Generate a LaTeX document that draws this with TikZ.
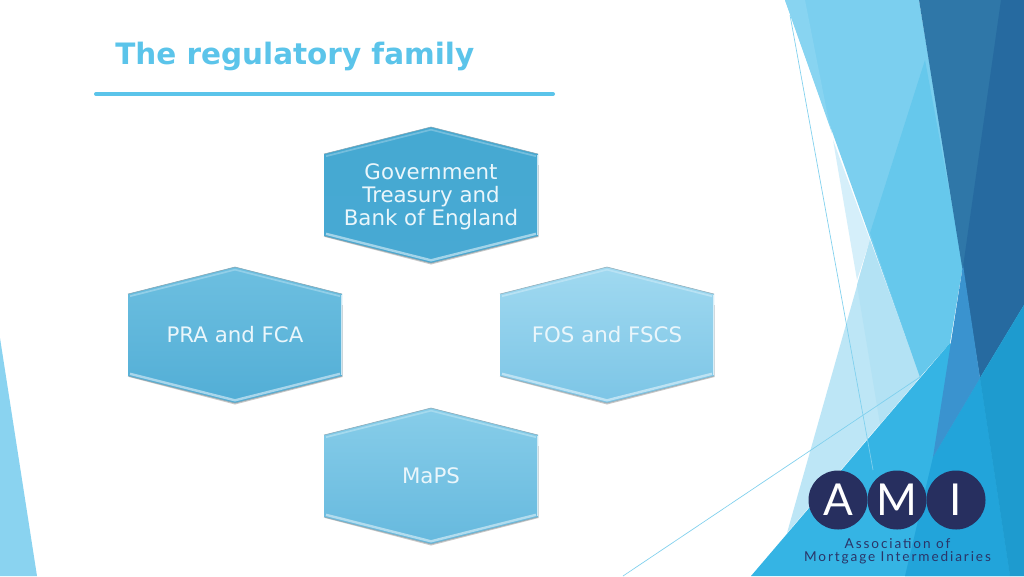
\documentclass[tikz,border=0pt]{standalone}
\usepackage{fontspec}
\setmainfont{DejaVu Sans}
\newfontfamily\logofont{Lato}
\newfontfamily\logotext[LetterSpace=14]{Lato}
\usetikzlibrary{calc}
\definecolor{titleblue}{HTML}{5BC4EA}
\definecolor{amin}{HTML}{272F5F}
\definecolor{amit}{HTML}{2A3568}
\definecolor{hextext}{HTML}{EAF6FB}
\definecolor{govT}{HTML}{45A9D2}\definecolor{govB}{HTML}{48A9D3}
\definecolor{praT}{HTML}{6DBFE0}\definecolor{praB}{HTML}{52AED6}
\definecolor{fosT}{HTML}{A0D9F0}\definecolor{fosB}{HTML}{7CC5E6}
\definecolor{mapT}{HTML}{87CDE9}\definecolor{mapB}{HTML}{66B9DE}
\definecolor{fLeft}{HTML}{8AD3F0}
\definecolor{fDark}{HTML}{2F77A8}
\definecolor{fDarker}{HTML}{266AA0}
\definecolor{fLight}{HTML}{7BCFEF}
\definecolor{fStrip}{HTML}{88D4F1}
\definecolor{fMed}{HTML}{66C8EC}
\definecolor{fPale}{HTML}{BDE6F6}
\definecolor{fPaler}{HTML}{D5EFFA}
\definecolor{fPaleB}{HTML}{B3E2F4}
\definecolor{fMid}{HTML}{3A93CF}
\definecolor{fLow}{HTML}{35B4E4}
\definecolor{fLowB}{HTML}{22A4DA}
\definecolor{fLowC}{HTML}{1E9BCF}
\definecolor{fLine}{HTML}{7FD0EE}
\tikzset{
  x=0.75pt,y=-0.75pt,
  hexlabel/.style={text=hextext,font=\fontsize{16pt}{17.3pt}\selectfont,align=center,inner sep=0pt},
  thinline/.style={draw=fLine,line width=0.5pt},
  logoletter/.style={text=white,font=\logofont\fontsize{33pt}{33pt}\selectfont,inner sep=0pt},
  logotag/.style={text=amit,font=\logotext\fontsize{10.2pt}{10.5pt}\selectfont,inner sep=0pt},
}
\newcommand{\hexa}[3]{%
 \begin{scope}[shift={(#1)}]
  \fill[black,opacity=.22] (-106,-30) -- (107.6,-30) -- (107.6,42) -- (0,69.5) -- (-106,42) -- cycle;
  \shade[top color=#2,bottom color=#3] (-107,-41) -- (0,-68) -- (107,-41) -- (107,41) -- (0,68) -- (-107,41) -- cycle;
  \draw[#2!75!white,line width=1.3pt] (-105,-38.8) -- (0,-65.3) -- (105,-38.8);
  \draw[#3!50!white,line width=1.8pt] (-105,38.8) -- (0,65.3) -- (105,38.8);
  \draw[#3!60!black!60!white,line width=0.4pt] (-107,-41) -- (0,-68) -- (107,-41);
  \draw[#3!60!black!60!white,line width=0.4pt] (-107,41) -- (0,68) -- (107,41);
  \draw[#3!30!white,line width=0.7pt] (106.4,-40) -- (106.4,40);
 \end{scope}}
\begin{document}
\begin{tikzpicture}
\useasboundingbox (0,0) rectangle (1024,576);
\fill[white] (0,0) rectangle (1024,576);
% left facet
\fill[fLeft] (0,338) -- (37,576) -- (0,576) -- cycle;
% right facets
\fill[fPaler] (833,140) -- (870,240) -- (857,280) -- cycle;
\fill[fPale] (870,240) -- (892,300) -- (920,377) -- (787,533) -- cycle;
\fill[fPaleB] (857,285) -- (870,240) -- (892,300) -- (920,377) -- (880,424) -- cycle;
\fill[fLight] (785,0) -- (919,0) -- (963,265) -- (920,377) -- cycle;
\fill[fStrip] (785,0) -- (805,0) -- (827,112) -- (832,133) -- cycle;
\fill[fMed] (925,60) -- (870,233) -- (920,377) -- (950,343) -- (963,265) -- cycle;
\fill[fDark] (919,0) -- (1024,0) -- (1024,305) -- (980,378) -- cycle;
\fill[fDarker] (1001,0) -- (1024,0) -- (1024,305) -- (980,378) -- (963,267) -- cycle;
\fill[fLow] (950,343) -- (980,378) -- (1024,305) -- (1024,576) -- (751,576) -- cycle;
\fill[fLowB] (980,378) -- (933,457) -- (905,576) -- (1010,576) -- cycle;
\fill[fLowC] (1024,305) -- (980,378) -- (1010,576) -- (1024,576) -- cycle;
\fill[fMid] (963,265) -- (980,378) -- (933,457) -- cycle;
\coordinate (la) at (790,15);
\coordinate (lb) at (873,470);
\coordinate (lc) at (623,576);
\coordinate (ld) at (920,377);
\draw[thinline] (la) -- (lb);
\draw[thinline] (lc) -- (ld);
% title
\node[anchor=west,text=titleblue,inner sep=0pt,font=\bfseries\fontsize{22.1pt}{24pt}\selectfont] (title) at (115,56) {The regulatory family};
\coordinate (ra) at (96,94);
\coordinate (rb) at (553,94);
\draw[titleblue,line width=3pt,line cap=round] (ra) -- (rb);
% hexagons
\hexa{431,195}{govT}{govB}
\hexa{235,335}{praT}{praB}
\hexa{607,335}{fosT}{fosB}
\hexa{431,476}{mapT}{mapB}
\node[hexlabel] (gov) at (431,196.5) {Government\\Treasury and\\Bank of England};
\node[hexlabel] (pra) at (235,335) {PRA and FCA};
\node[hexlabel] (fos) at (607,335) {FOS and FSCS};
\node[hexlabel] (map) at (431,476) {MaPS};
% logo
\fill[amin] (838,500) circle (29.5);
\fill[amin] (897,500) circle (29.5);
\fill[amin] (956,500) circle (29.5);
\node[logoletter] (la1) at (838,500) {A};
\node[logoletter] (la2) at (897,500) {M};
\node[logoletter] (la3) at (956,500) {I};
\node[logotag] (t1) at (897.5,544) {Association of};
\node[logotag] (t2) at (897.5,558) {Mortgage Intermediaries};
\end{tikzpicture}
\end{document}
